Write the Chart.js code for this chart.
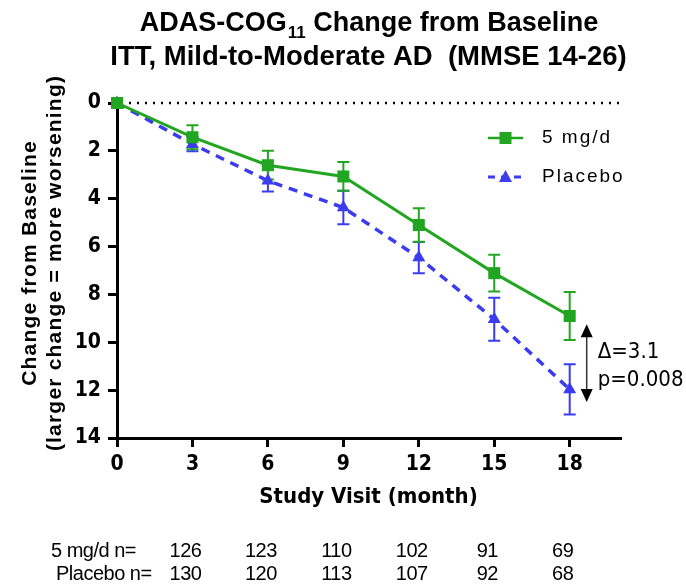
<!DOCTYPE html>
<html>
<head>
<meta charset="utf-8">
<script src="https://cdn.jsdelivr.net/npm/chart.js@4/dist/chart.umd.min.js"></script>
<style>
  html, body { margin: 0; padding: 0; background: #fff; }
</style>
</head>
<body>
<canvas id="c" width="686" height="586"></canvas>
<script>
// ADAS-COG11 change from baseline, ITT mild-to-moderate AD
const months = [0, 3, 6, 9, 12, 15, 18];
const xTicks = [0, 3, 6, 9, 12, 15, 18];
const yTicks = [0, 2, 4, 6, 8, 10, 12, 14];

const drug = [0, 1.43, 2.6, 3.07, 5.1, 7.11, 8.9];
const drugSE = [0, 0.5, 0.6, 0.6, 0.7, 0.77, 1.0];
const placebo = [0, 1.72, 3.25, 4.37, 6.46, 9.04, 11.97];
const placeboSE = [0, 0.3, 0.45, 0.7, 0.65, 0.9, 1.05];

const nMonths = [3, 6, 9, 12, 15, 18];
const drugN = [126, 123, 110, 102, 91, 69];
const placeboN = [130, 120, 113, 107, 92, 68];

const GREEN = "#22a622";
const BLUE = "#3b3bf0";
const FONT = "'Liberation Sans', Arial, sans-serif";
const NARROW = "'Liberation Sans Narrow', 'Arial Narrow', 'DejaVu Sans Condensed', sans-serif";

const toXY = (ys) => months.map((m, i) => ({ x: m, y: ys[i] }));

function drawErr(chart, ys, se, color) {
  const { ctx, scales: { x, y } } = chart;
  ctx.save();
  ctx.strokeStyle = color;
  ctx.lineWidth = 2;
  months.forEach((m, i) => {
    if (!se[i]) return;
    const px = x.getPixelForValue(m);
    const top = y.getPixelForValue(ys[i] - se[i]);
    const bot = y.getPixelForValue(ys[i] + se[i]);
    ctx.beginPath();
    ctx.moveTo(px, top); ctx.lineTo(px, bot);
    ctx.moveTo(px - 6, top); ctx.lineTo(px + 6, top);
    ctx.moveTo(px - 6, bot); ctx.lineTo(px + 6, bot);
    ctx.stroke();
  });
  ctx.restore();
}

const decor = {
  id: "decor",
  beforeDatasetsDraw(chart) {
    const { ctx, chartArea: a, scales: { y } } = chart;
    // dotted baseline
    ctx.save();
    ctx.strokeStyle = "#000";
    ctx.lineWidth = 2.5;
    ctx.setLineDash([2, 6]);
    const y0 = y.getPixelForValue(0);
    ctx.beginPath();
    ctx.moveTo(a.left + 4, y0);
    ctx.lineTo(a.right, y0);
    ctx.stroke();
    ctx.restore();
    drawErr(chart, placebo, placeboSE, BLUE);
    drawErr(chart, drug, drugSE, GREEN);
  },
  afterDraw(chart) {
    const { ctx, chartArea: a, scales: { x, y } } = chart;
    const cx = (a.left + a.right) / 2;
    ctx.save();
    ctx.fillStyle = "#000";
    ctx.textBaseline = "middle";

    // title, with subscript
    const big = "bold 27px " + FONT, small = "bold 17px " + FONT;
    ctx.font = big;
    const p1 = "ADAS-COG", p3 = " Change from Baseline";
    const w1 = ctx.measureText(p1).width, w3 = ctx.measureText(p3).width;
    ctx.font = small;
    const w2 = ctx.measureText("11").width;
    let tx = cx - (w1 + w2 + w3) / 2;
    ctx.textAlign = "left";
    ctx.font = big;
    ctx.fillText(p1, tx, 24);
    ctx.font = small;
    ctx.fillText("11", tx + w1 + 1, 33);
    ctx.font = big;
    ctx.fillText(p3, tx + w1 + w2 + 1, 24);
    ctx.textAlign = "center";
    ctx.font = "bold 27.5px " + FONT;
    ctx.fillText("ITT, Mild-to-Moderate AD  (MMSE 14-26)", cx, 57);

    // y axis title
    ctx.save();
    ctx.font = "bold 21px " + FONT;
    ctx.letterSpacing = "1.2px";
    ctx.translate(30, 263);
    ctx.rotate(-Math.PI / 2);
    ctx.fillText("Change from Baseline", 0, 0);
    ctx.fillText("(larger change = more worsening)", 0, 25);
    ctx.restore();

    // x axis title
    ctx.font = "bold 22px " + NARROW;
    ctx.fillText("Study Visit (month)", cx, 497);

    // legend
    const lx = 488, lw = 35;
    ctx.save();
    ctx.lineWidth = 2.5;
    ctx.strokeStyle = GREEN;
    ctx.beginPath(); ctx.moveTo(lx, 138); ctx.lineTo(lx + lw, 138); ctx.stroke();
    ctx.fillStyle = GREEN;
    ctx.fillRect(lx + lw / 2 - 6, 132, 12, 12);
    ctx.strokeStyle = BLUE;
    ctx.fillStyle = BLUE;
    ctx.setLineDash([7, 6]);
    ctx.lineWidth = 3;
    ctx.beginPath(); ctx.moveTo(lx, 177); ctx.lineTo(lx + lw, 177); ctx.stroke();
    ctx.beginPath();
    ctx.moveTo(lx + lw / 2, 170); ctx.lineTo(lx + lw / 2 + 6.5, 182); ctx.lineTo(lx + lw / 2 - 6.5, 182);
    ctx.closePath(); ctx.fill();
    ctx.restore();
    ctx.font = "19px " + FONT;
    ctx.textAlign = "left";
    ctx.letterSpacing = "2px";
    ctx.fillText("5 mg/d", 542, 138);
    ctx.fillText("Placebo", 542, 177);
    ctx.letterSpacing = "0px";

    // difference arrow at month 18
    const ax = x.getPixelForValue(18) + 17;
    const ya = y.getPixelForValue(9.25), yb = y.getPixelForValue(12.5);
    ctx.strokeStyle = "#333";
    ctx.lineWidth = 1.5;
    ctx.beginPath(); ctx.moveTo(ax, ya + 10); ctx.lineTo(ax, yb - 10); ctx.stroke();
    ctx.fillStyle = "#000";
    ctx.beginPath();
    ctx.moveTo(ax, ya); ctx.lineTo(ax + 6, ya + 13); ctx.lineTo(ax - 6, ya + 13); ctx.closePath(); ctx.fill();
    ctx.beginPath();
    ctx.moveTo(ax, yb); ctx.lineTo(ax + 6, yb - 13); ctx.lineTo(ax - 6, yb - 13); ctx.closePath(); ctx.fill();
    ctx.font = "22px " + NARROW;
    ctx.fillText("\u0394=3.1", ax + 11, 352);
    ctx.fillText("p=0.008", ax + 11, 380);

    // n at risk rows
    ctx.font = "20px " + FONT;
    ctx.letterSpacing = "-0.5px";
    ctx.textAlign = "left";
    ctx.fillText("5 mg/d n=", 51, 551);
    ctx.fillText("Placebo n=", 56, 574);
    ctx.textAlign = "center";
    nMonths.forEach((m, i) => {
      const px = x.getPixelForValue(m) - 7;
      ctx.fillText(String(drugN[i]), px, 551);
      ctx.fillText(String(placeboN[i]), px, 574);
    });
    ctx.restore();
  },
};

const axisColor = "#000";
const tickFont = { family: NARROW, size: 21, weight: "bold" };

new Chart(document.getElementById("c"), {
  type: "line",
  data: {
    datasets: [
      {
        label: "5 mg/d",
        data: toXY(drug),
        borderColor: GREEN,
        backgroundColor: GREEN,
        borderWidth: 3,
        pointStyle: "rect",
        pointRadius: 8.5,
        pointHoverRadius: 8.5,
        pointBorderWidth: 0,
        tension: 0,
        clip: false,
      },
      {
        label: "Placebo",
        data: toXY(placebo),
        borderColor: BLUE,
        backgroundColor: BLUE,
        borderWidth: 3.5,
        borderDash: [9, 7],
        pointStyle: "triangle",
        pointRadius: 7.5,
        pointHoverRadius: 7.5,
        pointBorderWidth: 0,
        tension: 0,
        clip: false,
      },
    ],
  },
  options: {
    responsive: false,
    animation: false,
    layout: { padding: { top: 103, right: 66, left: 0, bottom: 0 } },
    plugins: {
      legend: { display: false },
      title: { display: false },
      tooltip: { enabled: false },
    },
    scales: {
      x: {
        type: "linear",
        min: 0,
        max: 20,
        afterBuildTicks: (axis) => {
          axis.ticks = xTicks.map((v) => ({ value: v }));
        },
        afterFit: (axis) => { axis.height = 148; },
        ticks: { color: "#000", font: tickFont, padding: 5, maxRotation: 0 },
        grid: { display: true, drawOnChartArea: false, drawTicks: true, tickLength: 9, color: axisColor, lineWidth: 3 },
        border: { display: true, color: axisColor, width: 3 },
      },
      y: {
        type: "linear",
        reverse: true,
        min: 0,
        max: 14,
        afterBuildTicks: (axis) => {
          axis.ticks = yTicks.map((v) => ({ value: v }));
        },
        afterFit: (axis) => { axis.width = 117; },
        ticks: { color: "#000", font: tickFont, padding: 7 },
        grid: { display: true, drawOnChartArea: false, drawTicks: true, tickLength: 9, color: axisColor, lineWidth: 3 },
        border: { display: true, color: axisColor, width: 3 },
      },
    },
  },
  plugins: [decor],
});
</script>
</body>
</html>
